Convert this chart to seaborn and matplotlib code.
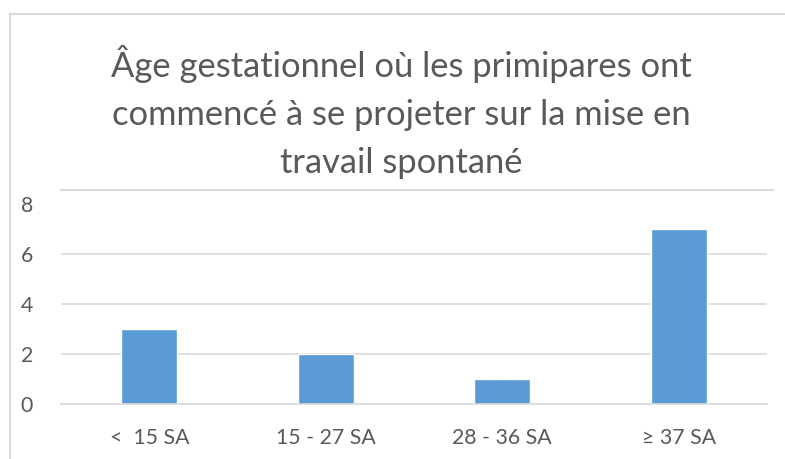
import pandas as pd
import seaborn as sns
import matplotlib.pyplot as plt
from matplotlib.patches import Rectangle
from matplotlib.lines import Line2D

categories = ['<  15 SA', '15 - 27 SA', '28 - 36 SA', '≥ 37 SA']
counts = [3, 2, 1, 7]

title = "Âge gestationnel où les primipares ont\ncommencé à se projeter sur la mise en\ntravail spontané"

text_color = '#595959'
grid_color = '#D9D9D9'
bar_color = '#5B9BD5'

W, H = 785, 459
dpi = 100

sns.set_theme(style='white')
plt.rcParams['font.family'] = ['Lato', 'DejaVu Sans']

df = pd.DataFrame({'cat': categories, 'n': counts})

fig = plt.figure(figsize=(W / dpi, H / dpi), dpi=dpi)
fig.set_facecolor('white')
ax = fig.add_axes([61 / W, 1 - 404 / H, (767 - 61) / W, (404 - 204) / H])

sns.barplot(data=df, x='cat', y='n', color=bar_color, width=0.32,
            saturation=1, ax=ax)

ax.set_ylim(0, 8)
ax.set_xlim(-0.5, 3.5)
ax.set_yticks([0, 2, 4, 6, 8])
ax.yaxis.grid(True, color=grid_color, linewidth=1.2)
ax.set_axisbelow(True)
# no gridline drawn at the top value
ax.get_ygridlines()[-1].set_visible(False)
for s in ['top', 'right', 'left']:
    ax.spines[s].set_visible(False)
ax.spines['bottom'].set_color(grid_color)
ax.spines['bottom'].set_linewidth(1.2)
ax.tick_params(axis='both', length=0, labelsize=15.3, colors=text_color)
ax.tick_params(axis='y', pad=20)
ax.tick_params(axis='x', pad=17)
ax.set_xlabel('')
ax.set_ylabel('')

fig.text(401 / W, 1 - 112 / H, title, ha='center', va='center',
         fontsize=24.8, color=text_color, linespacing=1.6)

# separator line above the plot area
fig.add_artist(Line2D([61 / W, 773 / W], [1 - 190 / H, 1 - 190 / H],
                      transform=fig.transFigure, color=grid_color,
                      linewidth=1.5))

# chart frame (cut off on right and bottom)
fig.patches.append(Rectangle((10 / W, -0.1), 1.2, 1 - 14 / H + 0.1,
                             transform=fig.transFigure, fill=False,
                             edgecolor='#D9D9D9', linewidth=1.5))

fig.savefig('out.png', dpi=dpi)
